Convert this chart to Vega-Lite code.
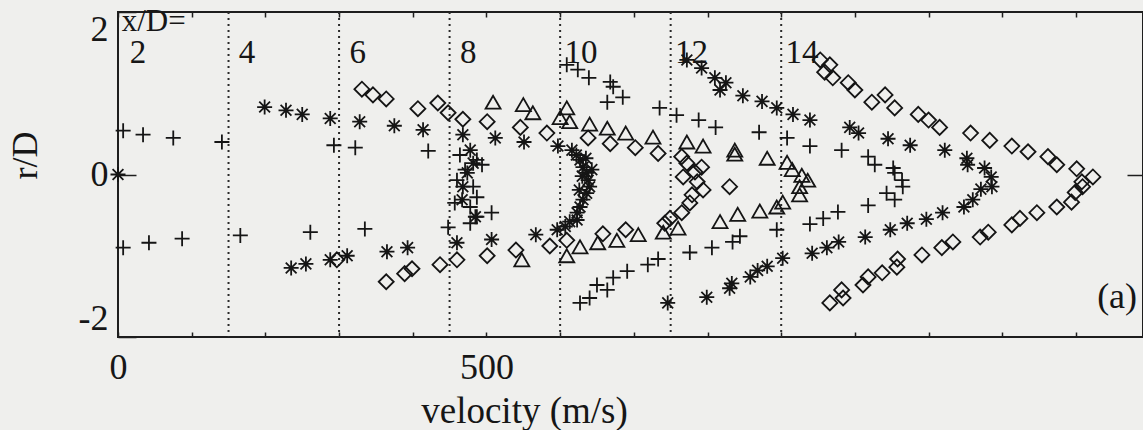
{
  "$schema": "https://vega.github.io/schema/vega-lite/v6.json",
  "width": 1025,
  "height": 325,
  "autosize": {"type": "none"},
  "padding": {"left": 118, "top": 12, "right": 0, "bottom": 93},
  "background": "#efefed",
  "config": {
    "view": {"stroke": "#1e1e1e", "strokeWidth": 2},
    "font": "Liberation Serif",
    "axis": {"labelFont": "Liberation Serif", "titleFont": "Liberation Serif", "labelColor": "#161616", "titleColor": "#161616", "tickColor": "#1e1e1e", "titleFontWeight": "normal", "grid": false, "domain": false}
  },
  "datasets": {
    "stations": [
      {"v": 150}, {"v": 300}, {"v": 450}, {"v": 600}, {"v": 750}, {"v": 900}
    ],
    "labels": [
      {"v": 16, "r": 1.49, "t": "2"},
      {"v": 164, "r": 1.5, "t": "4"},
      {"v": 314, "r": 1.5, "t": "6"},
      {"v": 464, "r": 1.5, "t": "8"},
      {"v": 606, "r": 1.5, "t": "10"},
      {"v": 756, "r": 1.5, "t": "12"},
      {"v": 906, "r": 1.5, "t": "14"}
    ],
    "pts": [
      {"v": 7, "r": 0.54, "s": "plus"}, {"v": 34, "r": 0.49, "s": "plus"}, {"v": 75, "r": 0.45, "s": "plus"}, {"v": 141, "r": 0.40, "s": "plus"},
      {"v": 7, "r": -0.90, "s": "plus"}, {"v": 42, "r": -0.84, "s": "plus"}, {"v": 87, "r": -0.79, "s": "plus"}, {"v": 166, "r": -0.75, "s": "plus"},
      {"v": 261, "r": -0.71, "s": "plus"}, {"v": 335, "r": -0.67, "s": "plus"}, {"v": 448, "r": -0.65, "s": "plus"},
      {"v": 293, "r": 0.36, "s": "plus"}, {"v": 322, "r": 0.33, "s": "plus"}, {"v": 421, "r": 0.29, "s": "plus"},
      {"v": 464, "r": 0.24, "s": "plus"}, {"v": 487, "r": 0.18, "s": "plus"}, {"v": 471, "r": 0.06, "s": "plus"}, {"v": 494, "r": 0.12, "s": "plus"},
      {"v": 460, "r": -0.07, "s": "plus"}, {"v": 482, "r": -0.15, "s": "plus"}, {"v": 487, "r": -0.28, "s": "plus"}, {"v": 457, "r": -0.35, "s": "plus"},
      {"v": 478, "r": -0.40, "s": "plus"}, {"v": 507, "r": -0.47, "s": "plus"}, {"v": 487, "r": -0.52, "s": "plus"}, {"v": 478, "r": -0.60, "s": "plus"},
      {"v": 609, "r": 1.35, "s": "plus"}, {"v": 624, "r": 1.29, "s": "plus"}, {"v": 639, "r": 1.19, "s": "plus"}, {"v": 668, "r": 1.14, "s": "plus"},
      {"v": 672, "r": 1.08, "s": "plus"}, {"v": 685, "r": 0.95, "s": "plus"}, {"v": 664, "r": 0.89, "s": "plus"}, {"v": 735, "r": 0.82, "s": "plus"},
      {"v": 758, "r": 0.73, "s": "plus"}, {"v": 788, "r": 0.67, "s": "plus"}, {"v": 811, "r": 0.58, "s": "plus"}, {"v": 870, "r": 0.52, "s": "plus"},
      {"v": 908, "r": 0.45, "s": "plus"}, {"v": 939, "r": 0.35, "s": "plus"}, {"v": 982, "r": 0.30, "s": "plus"}, {"v": 1018, "r": 0.22, "s": "plus"},
      {"v": 1027, "r": 0.12, "s": "plus"}, {"v": 1052, "r": 0.08, "s": "plus"}, {"v": 1054, "r": 0.02, "s": "plus"}, {"v": 1064, "r": -0.07, "s": "plus"},
      {"v": 1065, "r": -0.15, "s": "plus"}, {"v": 1043, "r": -0.23, "s": "plus"}, {"v": 1054, "r": -0.31, "s": "plus"}, {"v": 1018, "r": -0.38, "s": "plus"},
      {"v": 977, "r": -0.46, "s": "plus"}, {"v": 957, "r": -0.54, "s": "plus"}, {"v": 939, "r": -0.61, "s": "plus"}, {"v": 894, "r": -0.68, "s": "plus"},
      {"v": 844, "r": -0.76, "s": "plus"}, {"v": 834, "r": -0.83, "s": "plus"}, {"v": 806, "r": -0.90, "s": "plus"}, {"v": 776, "r": -0.96, "s": "plus"},
      {"v": 733, "r": -1.04, "s": "plus"}, {"v": 719, "r": -1.11, "s": "plus"}, {"v": 691, "r": -1.19, "s": "plus"}, {"v": 672, "r": -1.27, "s": "plus"},
      {"v": 664, "r": -1.42, "s": "plus"}, {"v": 650, "r": -1.36, "s": "plus"}, {"v": 640, "r": -1.52, "s": "plus"}, {"v": 627, "r": -1.58, "s": "plus"},

      {"v": 0, "r": 0.0, "s": "star"},
      {"v": 199, "r": 0.83, "s": "star"}, {"v": 228, "r": 0.79, "s": "star"}, {"v": 250, "r": 0.74, "s": "star"}, {"v": 288, "r": 0.69, "s": "star"},
      {"v": 328, "r": 0.65, "s": "star"}, {"v": 375, "r": 0.60, "s": "star"}, {"v": 414, "r": 0.55, "s": "star"}, {"v": 468, "r": 0.49, "s": "star"},
      {"v": 512, "r": 0.45, "s": "star"}, {"v": 551, "r": 0.40, "s": "star"}, {"v": 597, "r": 0.35, "s": "star"},
      {"v": 235, "r": -1.15, "s": "star"}, {"v": 255, "r": -1.10, "s": "star"}, {"v": 288, "r": -1.05, "s": "star"}, {"v": 311, "r": -1.00, "s": "star"},
      {"v": 365, "r": -0.95, "s": "star"}, {"v": 393, "r": -0.90, "s": "star"}, {"v": 460, "r": -0.84, "s": "star"}, {"v": 507, "r": -0.80, "s": "star"},
      {"v": 567, "r": -0.74, "s": "star"}, {"v": 596, "r": -0.68, "s": "star"}, {"v": 607, "r": -0.64, "s": "star"}, {"v": 623, "r": -0.56, "s": "star"},
      {"v": 478, "r": 0.30, "s": "star"}, {"v": 482, "r": 0.14, "s": "star"}, {"v": 474, "r": 0.02, "s": "star"}, {"v": 468, "r": -0.15, "s": "star"},
      {"v": 467, "r": -0.31, "s": "star"}, {"v": 485, "r": -0.52, "s": "star"},
      {"v": 616, "r": 0.30, "s": "star"}, {"v": 622, "r": 0.24, "s": "star"}, {"v": 627, "r": 0.18, "s": "star"}, {"v": 631, "r": 0.09, "s": "star"},
      {"v": 636, "r": 0.02, "s": "star"}, {"v": 638, "r": -0.07, "s": "star"}, {"v": 640, "r": -0.15, "s": "star"}, {"v": 636, "r": -0.23, "s": "star"},
      {"v": 631, "r": -0.31, "s": "star"}, {"v": 627, "r": -0.40, "s": "star"}, {"v": 623, "r": -0.47, "s": "star"}, {"v": 613, "r": -0.58, "s": "star"},
      {"v": 630, "r": -0.02, "s": "star"}, {"v": 626, "r": -0.19, "s": "star"}, {"v": 635, "r": 0.20, "s": "star"}, {"v": 643, "r": 0.06, "s": "star"},
      {"v": 772, "r": 1.41, "s": "star"}, {"v": 792, "r": 1.31, "s": "star"}, {"v": 810, "r": 1.19, "s": "star"}, {"v": 825, "r": 1.13, "s": "star"},
      {"v": 817, "r": 1.04, "s": "star"}, {"v": 848, "r": 0.97, "s": "star"}, {"v": 874, "r": 0.90, "s": "star"}, {"v": 894, "r": 0.82, "s": "star"},
      {"v": 916, "r": 0.74, "s": "star"}, {"v": 939, "r": 0.67, "s": "star"}, {"v": 993, "r": 0.58, "s": "star"}, {"v": 1005, "r": 0.51, "s": "star"},
      {"v": 1045, "r": 0.44, "s": "star"}, {"v": 1075, "r": 0.36, "s": "star"}, {"v": 1122, "r": 0.30, "s": "star"}, {"v": 1152, "r": 0.20, "s": "star"},
      {"v": 1153, "r": 0.12, "s": "star"}, {"v": 1176, "r": 0.08, "s": "star"}, {"v": 1185, "r": -0.03, "s": "star"}, {"v": 1186, "r": -0.15, "s": "star"},
      {"v": 1171, "r": -0.18, "s": "star"}, {"v": 1160, "r": -0.31, "s": "star"}, {"v": 1148, "r": -0.40, "s": "star"}, {"v": 1119, "r": -0.47, "s": "star"},
      {"v": 1097, "r": -0.55, "s": "star"}, {"v": 1071, "r": -0.60, "s": "star"}, {"v": 1048, "r": -0.68, "s": "star"}, {"v": 1014, "r": -0.77, "s": "star"},
      {"v": 978, "r": -0.83, "s": "star"}, {"v": 962, "r": -0.90, "s": "star"}, {"v": 942, "r": -0.97, "s": "star"}, {"v": 902, "r": -1.03, "s": "star"},
      {"v": 881, "r": -1.13, "s": "star"}, {"v": 868, "r": -1.18, "s": "star"}, {"v": 858, "r": -1.26, "s": "star"}, {"v": 833, "r": -1.34, "s": "star"},
      {"v": 830, "r": -1.40, "s": "star"}, {"v": 799, "r": -1.51, "s": "star"}, {"v": 746, "r": -1.58, "s": "star"},

      {"v": 331, "r": 1.05, "s": "diamond"}, {"v": 346, "r": 0.98, "s": "diamond"}, {"v": 364, "r": 0.93, "s": "diamond"}, {"v": 407, "r": 0.81, "s": "diamond"},
      {"v": 434, "r": 0.88, "s": "diamond"}, {"v": 448, "r": 0.76, "s": "diamond"}, {"v": 468, "r": 0.68, "s": "diamond"}, {"v": 501, "r": 0.65, "s": "diamond"},
      {"v": 546, "r": 0.58, "s": "diamond"}, {"v": 582, "r": 0.51, "s": "diamond"}, {"v": 638, "r": 0.45, "s": "diamond"}, {"v": 668, "r": 0.38, "s": "diamond"},
      {"v": 702, "r": 0.33, "s": "diamond"}, {"v": 733, "r": 0.26, "s": "diamond"}, {"v": 765, "r": 0.22, "s": "diamond"}, {"v": 772, "r": 0.14, "s": "diamond"},
      {"v": 792, "r": 0.09, "s": "diamond"}, {"v": 783, "r": 0.03, "s": "diamond"}, {"v": 767, "r": -0.03, "s": "diamond"}, {"v": 786, "r": -0.09, "s": "diamond"},
      {"v": 794, "r": -0.19, "s": "diamond"}, {"v": 779, "r": -0.25, "s": "diamond"}, {"v": 776, "r": -0.35, "s": "diamond"}, {"v": 765, "r": -0.47, "s": "diamond"},
      {"v": 749, "r": -0.54, "s": "diamond"}, {"v": 742, "r": -0.60, "s": "diamond"}, {"v": 689, "r": -0.68, "s": "diamond"}, {"v": 658, "r": -0.73, "s": "diamond"},
      {"v": 609, "r": -0.81, "s": "diamond"}, {"v": 586, "r": -0.88, "s": "diamond"}, {"v": 540, "r": -0.93, "s": "diamond"}, {"v": 501, "r": -1.00, "s": "diamond"},
      {"v": 460, "r": -1.05, "s": "diamond"}, {"v": 437, "r": -1.11, "s": "diamond"}, {"v": 399, "r": -1.16, "s": "diamond"}, {"v": 389, "r": -1.22, "s": "diamond"},
      {"v": 364, "r": -1.32, "s": "diamond"}, {"v": 297, "r": -1.05, "s": "diamond"}, {"v": 830, "r": -0.15, "s": "diamond"},
      {"v": 953, "r": 1.41, "s": "diamond"}, {"v": 966, "r": 1.35, "s": "diamond"}, {"v": 959, "r": 1.26, "s": "diamond"}, {"v": 970, "r": 1.19, "s": "diamond"},
      {"v": 991, "r": 1.13, "s": "diamond"}, {"v": 1000, "r": 1.04, "s": "diamond"}, {"v": 1023, "r": 0.89, "s": "diamond"}, {"v": 1041, "r": 0.98, "s": "diamond"},
      {"v": 1054, "r": 0.82, "s": "diamond"}, {"v": 1086, "r": 0.74, "s": "diamond"}, {"v": 1100, "r": 0.67, "s": "diamond"}, {"v": 1115, "r": 0.58, "s": "diamond"},
      {"v": 1157, "r": 0.51, "s": "diamond"}, {"v": 1183, "r": 0.42, "s": "diamond"}, {"v": 1213, "r": 0.35, "s": "diamond"}, {"v": 1235, "r": 0.28, "s": "diamond"},
      {"v": 1262, "r": 0.22, "s": "diamond"}, {"v": 1274, "r": 0.12, "s": "diamond"}, {"v": 1301, "r": 0.07, "s": "diamond"}, {"v": 1323, "r": -0.03, "s": "diamond"},
      {"v": 1308, "r": -0.09, "s": "diamond"}, {"v": 1309, "r": -0.15, "s": "diamond"}, {"v": 1299, "r": -0.22, "s": "diamond"}, {"v": 1294, "r": -0.34, "s": "diamond"},
      {"v": 1274, "r": -0.40, "s": "diamond"}, {"v": 1247, "r": -0.47, "s": "diamond"}, {"v": 1224, "r": -0.54, "s": "diamond"}, {"v": 1213, "r": -0.62, "s": "diamond"},
      {"v": 1181, "r": -0.71, "s": "diamond"}, {"v": 1170, "r": -0.77, "s": "diamond"}, {"v": 1133, "r": -0.83, "s": "diamond"}, {"v": 1118, "r": -0.90, "s": "diamond"},
      {"v": 1091, "r": -0.99, "s": "diamond"}, {"v": 1058, "r": -1.04, "s": "diamond"}, {"v": 1057, "r": -1.14, "s": "diamond"}, {"v": 1037, "r": -1.21, "s": "diamond"},
      {"v": 1018, "r": -1.26, "s": "diamond"}, {"v": 1011, "r": -1.36, "s": "diamond"}, {"v": 982, "r": -1.42, "s": "diamond"}, {"v": 984, "r": -1.52, "s": "diamond"},
      {"v": 966, "r": -1.58, "s": "diamond"},

      {"v": 509, "r": 0.89, "s": "tri"}, {"v": 550, "r": 0.86, "s": "tri"}, {"v": 563, "r": 0.76, "s": "tri"}, {"v": 609, "r": 0.82, "s": "tri"},
      {"v": 600, "r": 0.70, "s": "tri"}, {"v": 613, "r": 0.65, "s": "tri"}, {"v": 640, "r": 0.62, "s": "tri"}, {"v": 664, "r": 0.57, "s": "tri"},
      {"v": 689, "r": 0.51, "s": "tri"}, {"v": 726, "r": 0.46, "s": "tri"}, {"v": 772, "r": 0.40, "s": "tri"}, {"v": 794, "r": 0.35, "s": "tri"},
      {"v": 837, "r": 0.30, "s": "tri"}, {"v": 837, "r": 0.25, "s": "tri"}, {"v": 881, "r": 0.20, "s": "tri"}, {"v": 908, "r": 0.15, "s": "tri"},
      {"v": 915, "r": 0.06, "s": "tri"}, {"v": 928, "r": -0.01, "s": "tri"}, {"v": 936, "r": -0.07, "s": "tri"}, {"v": 925, "r": -0.15, "s": "tri"},
      {"v": 925, "r": -0.25, "s": "tri"}, {"v": 902, "r": -0.34, "s": "tri"}, {"v": 894, "r": -0.40, "s": "tri"}, {"v": 871, "r": -0.45, "s": "tri"},
      {"v": 841, "r": -0.49, "s": "tri"}, {"v": 817, "r": -0.58, "s": "tri"}, {"v": 760, "r": -0.66, "s": "tri"}, {"v": 740, "r": -0.71, "s": "tri"},
      {"v": 706, "r": -0.74, "s": "tri"}, {"v": 677, "r": -0.81, "s": "tri"}, {"v": 651, "r": -0.84, "s": "tri"}, {"v": 627, "r": -0.89, "s": "tri"},
      {"v": 609, "r": -1.00, "s": "tri"}, {"v": 548, "r": -1.05, "s": "tri"}
    ]
  },
  "layer": [
    {
      "data": {"name": "stations"},
      "mark": {"type": "rule", "color": "#2a2a2a", "strokeWidth": 2, "strokeDash": [2, 4]},
      "encoding": {
        "x": {
          "field": "v", "type": "quantitative",
          "scale": {"domain": [0, 1391], "nice": false, "zero": false},
          "axis": {"orient": "top", "values": [0, 100, 200, 300, 400, 500, 600, 700, 800, 900, 1000, 1100, 1200, 1300], "labels": false, "title": null, "tickWidth": 1.5, "tickSize": -5}
        }
      }
    },
    {
      "data": {"name": "pts"},
      "mark": {"type": "point", "filled": false, "strokeWidth": 1.8, "color": "#151515", "size": 225, "opacity": 1},
      "encoding": {
        "x": {
          "field": "v", "type": "quantitative",
          "axis": {"orient": "bottom", "values": [0, 100, 200, 300, 400, 500, 600, 700, 800, 900, 1000, 1100, 1200, 1300], "labelExpr": "datum.value === 0 || datum.value === 500 ? datum.label : ''", "labelFlush": false, "labelFontSize": 36, "labelPadding": 18, "tickWidth": 1.5, "tickSize": -5, "title": "velocity (m/s)", "titleFontSize": 37, "titleX": 406, "titleY": 74, "titleBaseline": "middle", "titleAlign": "center", "titleAnchor": null}
        },
        "y": {
          "field": "r", "type": "quantitative",
          "scale": {"domain": [-2, 2], "nice": false, "zero": false},
          "axis": {"orient": "left", "values": [-2, 0, 2], "labelExpr": "datum.value < 0 ? '-2' : datum.label", "labelFontSize": 36, "labelFlush": true, "tickSize": -18, "tickWidth": 1.5, "labelPadding": 28, "title": "r/D", "titleFontSize": 36, "titleX": -93, "titleY": 143, "titleBaseline": "middle", "titleAlign": "center", "titleAngle": -90}
        },
        "shape": {
          "field": "s", "type": "nominal", "legend": null,
          "scale": {"domain": ["plus", "star", "diamond", "tri"], "range": ["M-1,0H1M0,-1V1", "M-1,0H1M0,-1V1M-0.72,-0.72L0.72,0.72M-0.72,0.72L0.72,-0.72", "diamond", "triangle-up"]}
        }
      }
    },
    {
      "data": {"name": "stations"},
      "mark": {"type": "rule", "opacity": 0},
      "encoding": {
        "x": {"field": "v", "type": "quantitative", "axis": null},
        "y": {"datum": 0, "type": "quantitative", "axis": {"orient": "right", "values": [0], "labels": false, "title": null, "tickSize": -16, "tickWidth": 1.5}}
      }
    },
    {
      "data": {"name": "labels"},
      "mark": {"type": "text", "align": "left", "baseline": "middle", "fontSize": 33, "font": "Liberation Serif", "color": "#161616"},
      "encoding": {
        "x": {"field": "v", "type": "quantitative", "axis": null},
        "y": {"field": "r", "type": "quantitative", "axis": null},
        "text": {"field": "t"}
      }
    },
    {
      "data": {"values": [{"v": 5, "r": 1.88, "t": "x/D="}]},
      "mark": {"type": "text", "align": "left", "baseline": "middle", "fontSize": 31, "font": "Liberation Serif", "color": "#161616"},
      "encoding": {
        "x": {"field": "v", "type": "quantitative", "axis": null},
        "y": {"field": "r", "type": "quantitative", "axis": null},
        "text": {"field": "t"}
      }
    },
    {
      "data": {"values": [{"v": 1383, "r": -1.51, "t": "(a)"}]},
      "mark": {"type": "text", "align": "right", "baseline": "middle", "fontSize": 36, "font": "Liberation Serif", "color": "#161616"},
      "encoding": {
        "x": {"field": "v", "type": "quantitative", "axis": null},
        "y": {"field": "r", "type": "quantitative", "axis": null},
        "text": {"field": "t"}
      }
    }
  ],
  "resolve": {"axis": {"x": "independent", "y": "independent"}}
}
